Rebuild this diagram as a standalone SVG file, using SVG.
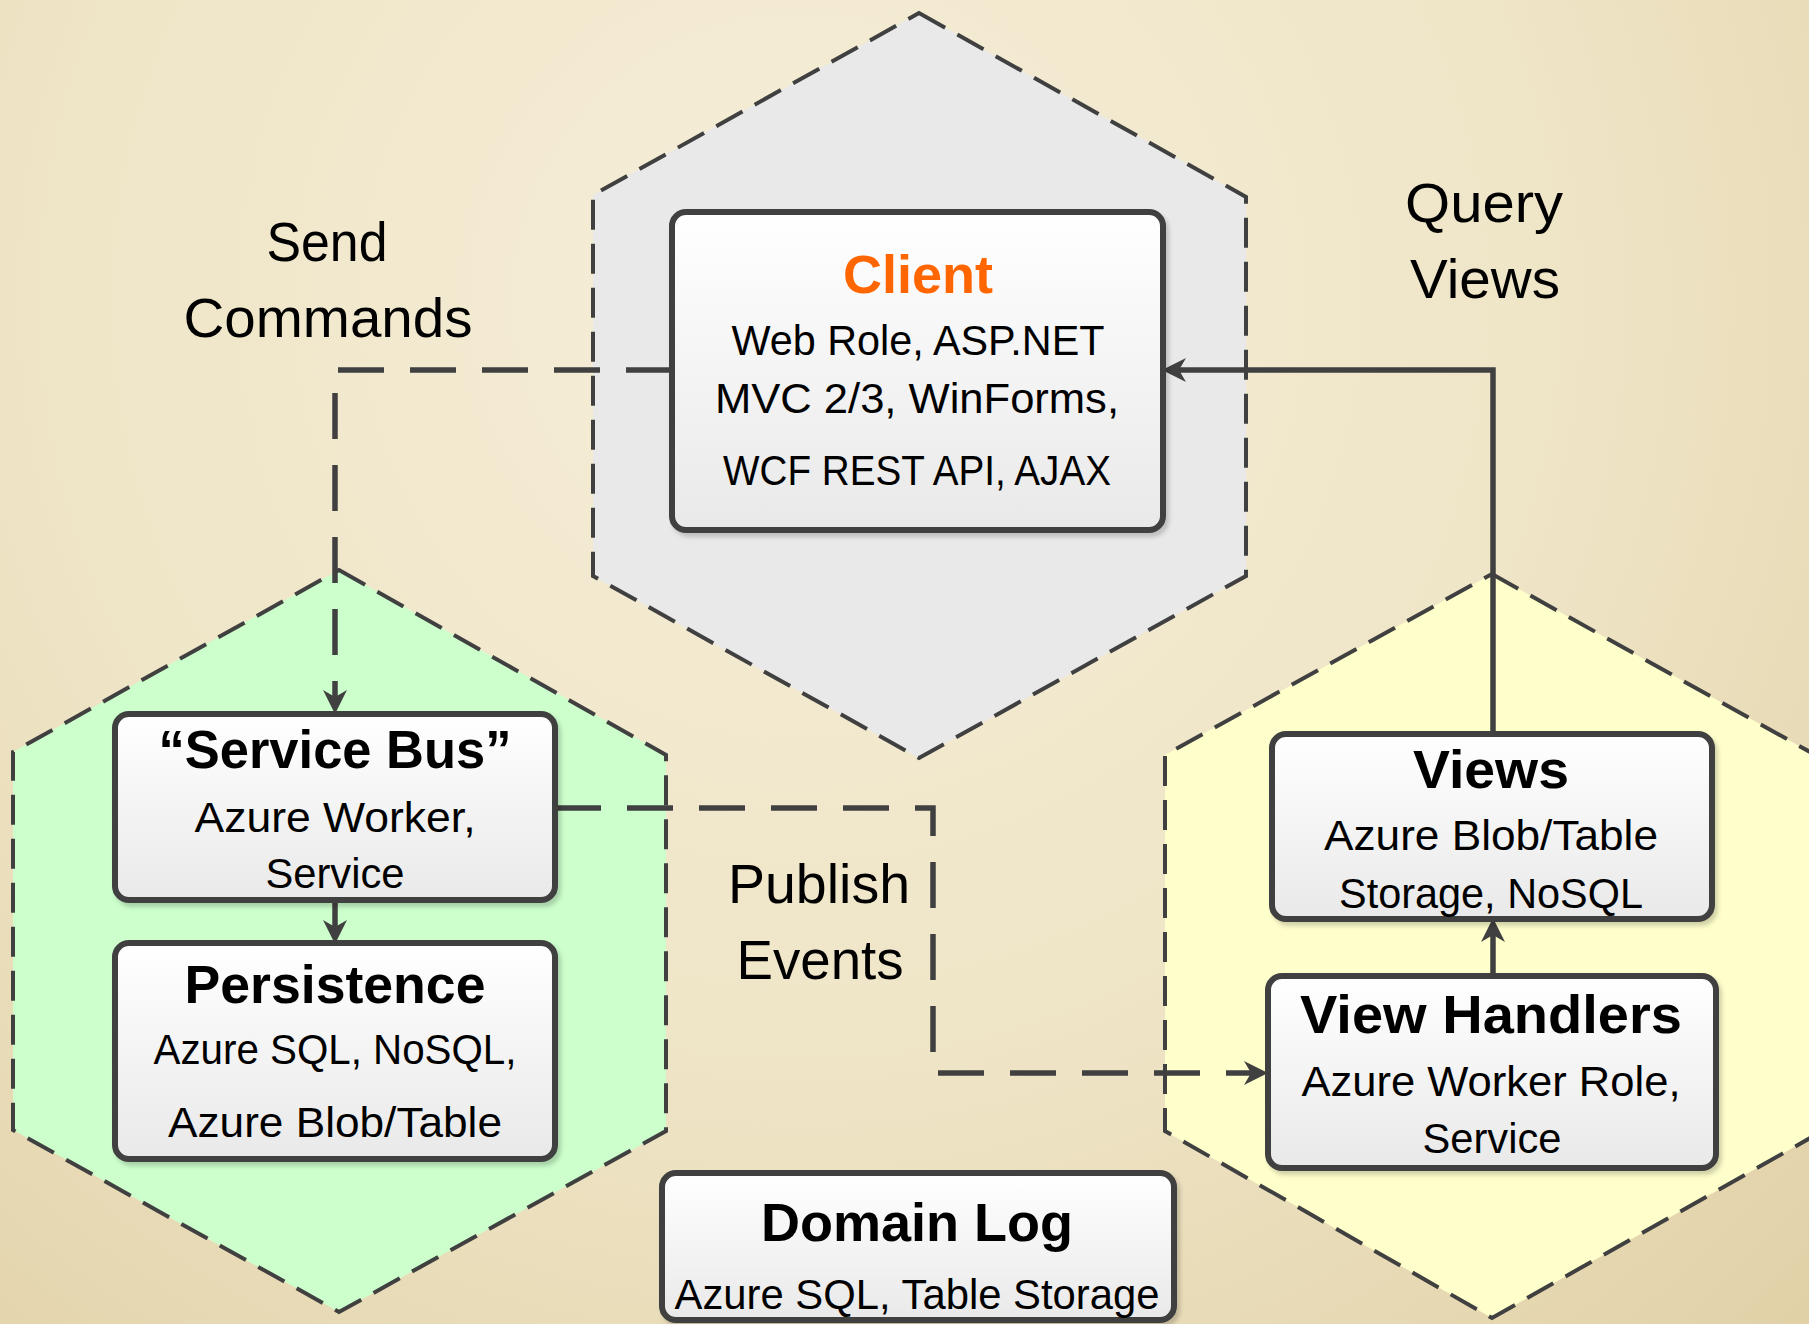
<svg xmlns="http://www.w3.org/2000/svg" width="1809" height="1324" viewBox="0 0 1809 1324">
  <defs>
    <radialGradient id="bg" cx="800" cy="300" r="1500" gradientUnits="userSpaceOnUse">
      <stop offset="0" stop-color="#f5eed8"/>
      <stop offset="0.5" stop-color="#efe5c7"/>
      <stop offset="1" stop-color="#e0cfa4"/>
    </radialGradient>
    <linearGradient id="boxfill" x1="0" y1="0" x2="0" y2="1">
      <stop offset="0" stop-color="#ffffff"/>
      <stop offset="1" stop-color="#e9e9e9"/>
    </linearGradient>
    <filter id="shadow" x="-10%" y="-10%" width="120%" height="130%">
      <feDropShadow dx="3" dy="4" stdDeviation="2" flood-color="#000000" flood-opacity="0.18"/>
    </filter>
    <marker id="arrow" markerUnits="userSpaceOnUse" markerWidth="24" markerHeight="26" viewBox="0 0 24 26" refX="7" refY="13" orient="auto">
      <path d="M0,1 L24,13 L0,25 L7,13 z" fill="#404040"/>
    </marker>
    <style>
      .hex { stroke: #404040; stroke-width: 4; stroke-dasharray: 30 14; }
      .box { fill: url(#boxfill); stroke: #404040; stroke-width: 6; filter: url(#shadow); }
      .title { font-family: "Liberation Sans", Arial, sans-serif; font-weight: bold; font-size: 54px; fill: #000; text-anchor: middle; }
      .body { font-family: "Liberation Sans", Arial, sans-serif; font-size: 42px; fill: #000; text-anchor: middle; }
      .label { font-family: "Liberation Sans", Arial, sans-serif; font-size: 56px; fill: #000; text-anchor: middle; }
      .conn { fill: none; stroke: #404040; stroke-width: 5.5; }
      .dash { stroke-dasharray: 46 26; }
    </style>
  </defs>

  <rect x="0" y="0" width="1809" height="1324" fill="url(#bg)"/>

  <g id="hex-client">
    <polygon class="hex" fill="#e9e9e9" points="919,13 1246,197 1246,576 919,758 593,576 593,195"/>
  </g>
  <g id="hex-write">
    <polygon class="hex" fill="#ccffcc" points="339,570 666,755 666,1131 339,1312 13,1130 13,752"/>
  </g>
  <g id="hex-read">
    <polygon class="hex" fill="#ffffcc" points="1492,574 1819,757 1819,1133 1492,1318 1165,1131 1165,755"/>
  </g>

  <g id="connectors">
    <path class="conn dash" d="M672,370 H335 V697" marker-end="url(#arrow)"/>
    <path class="conn dash" d="M555,808 H933 V1073 H1251" marker-end="url(#arrow)"/>
    <path class="conn" d="M1493,734 V370 H1179" marker-end="url(#arrow)"/>
    <path class="conn" d="M1493,976 V935" marker-end="url(#arrow)"/>
    <path class="conn" d="M335,900 V927" marker-end="url(#arrow)"/>
  </g>

  <g id="client">
    <rect class="box" x="672" y="212" width="491" height="318" rx="14"/>
    <text class="title" x="918" y="293" style="fill:#ff6600" textLength="150" lengthAdjust="spacingAndGlyphs">Client</text>
    <text class="body" x="918" y="355" textLength="373" lengthAdjust="spacingAndGlyphs">Web Role, ASP.NET</text>
    <text class="body" x="917" y="413" textLength="404" lengthAdjust="spacingAndGlyphs">MVC 2/3, WinForms,</text>
    <text class="body" x="917" y="485" textLength="388" lengthAdjust="spacingAndGlyphs">WCF REST API, AJAX</text>
  </g>

  <g id="service-bus">
    <rect class="box" x="115" y="714" width="440" height="186" rx="14"/>
    <text class="title" x="335" y="768" textLength="353" lengthAdjust="spacingAndGlyphs">“Service Bus”</text>
    <text class="body" x="335" y="832" textLength="281" lengthAdjust="spacingAndGlyphs">Azure Worker,</text>
    <text class="body" x="335" y="888" textLength="139" lengthAdjust="spacingAndGlyphs">Service</text>
  </g>

  <g id="persistence">
    <rect class="box" x="115" y="943" width="440" height="216" rx="14"/>
    <text class="title" x="335" y="1003" textLength="301" lengthAdjust="spacingAndGlyphs">Persistence</text>
    <text class="body" x="335" y="1064" textLength="363" lengthAdjust="spacingAndGlyphs">Azure SQL, NoSQL,</text>
    <text class="body" x="335" y="1137" textLength="334" lengthAdjust="spacingAndGlyphs">Azure Blob/Table</text>
  </g>

  <g id="views">
    <rect class="box" x="1272" y="734" width="440" height="185" rx="14"/>
    <text class="title" x="1491" y="788" textLength="156" lengthAdjust="spacingAndGlyphs">Views</text>
    <text class="body" x="1491" y="850" textLength="334" lengthAdjust="spacingAndGlyphs">Azure Blob/Table</text>
    <text class="body" x="1491" y="908" textLength="304" lengthAdjust="spacingAndGlyphs">Storage, NoSQL</text>
  </g>

  <g id="view-handlers">
    <rect class="box" x="1268" y="976" width="448" height="192" rx="14"/>
    <text class="title" x="1491" y="1033" textLength="382" lengthAdjust="spacingAndGlyphs">View Handlers</text>
    <text class="body" x="1491" y="1096" textLength="379" lengthAdjust="spacingAndGlyphs">Azure Worker Role,</text>
    <text class="body" x="1492" y="1153" textLength="139" lengthAdjust="spacingAndGlyphs">Service</text>
  </g>

  <g id="domain-log">
    <rect class="box" x="662" y="1173" width="512" height="147" rx="14"/>
    <text class="title" x="917" y="1241" textLength="312" lengthAdjust="spacingAndGlyphs">Domain Log</text>
    <text class="body" x="917" y="1309" textLength="485" lengthAdjust="spacingAndGlyphs">Azure SQL, Table Storage</text>
  </g>

  <g id="labels">
    <text class="label" x="327" y="261" textLength="121" lengthAdjust="spacingAndGlyphs">Send</text>
    <text class="label" x="328" y="337" textLength="289" lengthAdjust="spacingAndGlyphs">Commands</text>
    <text class="label" x="1484" y="222" textLength="158" lengthAdjust="spacingAndGlyphs">Query</text>
    <text class="label" x="1485" y="298" textLength="150" lengthAdjust="spacingAndGlyphs">Views</text>
    <text class="label" x="819" y="903" textLength="182" lengthAdjust="spacingAndGlyphs">Publish</text>
    <text class="label" x="820" y="979" textLength="167" lengthAdjust="spacingAndGlyphs">Events</text>
  </g>
</svg>
